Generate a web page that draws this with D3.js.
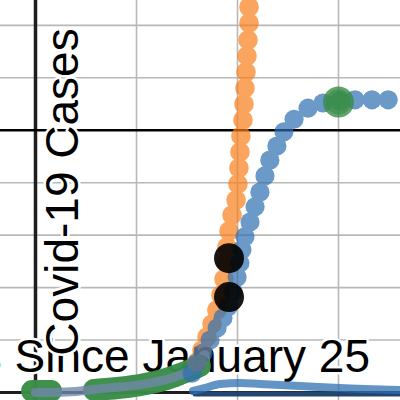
<!DOCTYPE html>
<html>
<head>
<meta charset="utf-8">
<script src="https://cdn.jsdelivr.net/npm/d3@7"></script>
<style>
html,body{margin:0;padding:0;background:#fff;overflow:hidden}
svg{display:block}
</style>
</head>
<body>
<svg id="chart" width="400" height="400"></svg>
<script>
// ---- data ----
const xGridTicks = [5, 10, 15];
const yGridTicks = [1000, 2000, 3000, 4000, 5000, 6000, 7000];
const thresholdCases = 5000;

const xTitle = "Days Since January 25";
const yTitle = "Covid-19 Cases";

const orangeDays  = [8.00, 8.24, 8.49, 8.74, 8.98, 9.18, 9.33, 9.43, 9.48, 9.58, 9.73, 9.93, 10.02, 10.07, 10.12, 10.17, 10.27, 10.32, 10.37, 10.42, 10.47, 10.52, 10.57, 10.57, 10.62];
const orangeCases = [582, 810, 1058, 1306, 1573, 1859, 2164, 2469, 2774, 3079, 3384, 3670, 3975, 4280, 4585, 4890, 5195, 5501, 5806, 6111, 6416, 6721, 7045, 7350, 7655];

const blueDays  = [7.75, 7.99, 8.29, 8.64, 8.99, 9.28, 9.53, 9.78, 9.98, 10.12, 10.22, 10.37, 10.62, 10.87, 11.11, 11.36, 11.60, 11.95, 12.30, 12.80, 13.49, 14.23, 15.07, 15.82, 16.66, 17.46];
const blueCases = [370, 560, 750, 1000, 1230, 1420, 1630, 1920, 2200, 2470, 2720, 2970, 3250, 3540, 3820, 4130, 4430, 4700, 4970, 5210, 5420, 5520, 5560, 5580, 5580, 5580];

const keyDays  = [9.58, 9.58];
const keyCases = [2560, 1820];

const peakDay   = [15.0];
const peakCases = [5540];

const greenDays  = [-0.17, 0.77, null, 2.90, 4.18, 5.42, 6.41, 7.15, 7.75, 8.14];
const greenCases = [30, 30, null, 50, 90, 160, 250, 350, 440, 510];

const fitDays  = [0, 1.5, 3.2, 5.2, 6.4, 7.2, 7.75];
const fitCases = [0, 10, 70, 150, 240, 340, 420];

const humpDays  = [7.80, 8.40, 9.14, 10.12, 11.11, 13.09, 15.07, 18.04];
const humpCases = [29, 86, 162, 181, 162, 124, 86, 48];

const baseDays  = [7.9, 18.2];
const baseCases = [-30, -30];

// ---- scales ----
const W = 400, H = 400;
const x = d3.scaleLinear().domain([-35.5 / 20.2, 364.5 / 20.2]).range([0, W]);
const y = d3.scaleLinear().domain([-7.5 / 0.05245, 392.5 / 0.05245]).range([H, 0]);

const svg = d3.select("#chart");
const zip = (a, b) => a.map((d, i) => (d === null ? null : [d, b[i]]));

// grid
svg.append("g").selectAll("line").data(xGridTicks).join("line")
  .attr("x1", d => x(d)).attr("x2", d => x(d)).attr("y1", 0).attr("y2", H)
  .attr("stroke", "#b8b8b8").attr("stroke-width", 1.6);
svg.append("g").selectAll("line").data(yGridTicks).join("line")
  .attr("x1", 0).attr("x2", W).attr("y1", d => y(d)).attr("y2", d => y(d))
  .attr("stroke", "#b8b8b8").attr("stroke-width", 1.6);

// axes
svg.append("line").attr("x1", x(0)).attr("x2", x(0)).attr("y1", 0).attr("y2", H)
  .attr("stroke", "#1e1e1e").attr("stroke-width", 3.5);
svg.append("line").attr("x1", 0).attr("x2", W).attr("y1", y(0)).attr("y2", y(0))
  .attr("stroke", "#1e1e1e").attr("stroke-width", 3);
// threshold line
svg.append("line").attr("x1", 0).attr("x2", W).attr("y1", y(thresholdCases)).attr("y2", y(thresholdCases))
  .attr("stroke", "#000").attr("stroke-width", 2.6);

// titles (with white halo)
const tStyle = sel => sel
  .attr("font-family", "'Liberation Sans', Arial, sans-serif")
  .attr("font-size", 46).attr("fill", "#000")
  .attr("stroke", "#fff").attr("stroke-width", 5)
  .attr("stroke-linejoin", "round").attr("paint-order", "stroke");

svg.append("text").call(tStyle)
  .attr("x", 370).attr("y", 372).attr("text-anchor", "end").text(xTitle);
svg.append("text").call(tStyle)
  .attr("transform", "translate(78,192) rotate(-90)")
  .attr("text-anchor", "middle").text(yTitle);

// curves
const line = d3.line().defined(d => d !== null)
  .x(d => x(d[0])).y(d => y(d[1])).curve(d3.curveMonotoneX);

svg.append("path").datum(zip(greenDays, greenCases)).attr("d", line)
  .attr("fill", "none").attr("stroke", "#388c46").attr("stroke-opacity", 0.97)
  .attr("stroke-width", 22).attr("stroke-linecap", "round").attr("stroke-linejoin", "round");

svg.append("path").datum(zip(fitDays, fitCases)).attr("d", line)
  .attr("fill", "none").attr("stroke", "#7088a8").attr("stroke-opacity", 0.8)
  .attr("stroke-width", 9).attr("stroke-linecap", "round");

svg.append("path").datum(zip(baseDays, baseCases)).attr("d", line)
  .attr("fill", "none").attr("stroke", "#22466f").attr("stroke-width", 5)
  .attr("stroke-linecap", "round");

svg.append("path").datum(zip(humpDays, humpCases)).attr("d", line)
  .attr("fill", "none").attr("stroke", "#2d70b3").attr("stroke-opacity", 0.75)
  .attr("stroke-width", 8).attr("stroke-linecap", "round");

// point series
function dots(days, cases, r, color, op) {
  svg.append("g").attr("opacity", op).selectAll("circle")
    .data(zip(days, cases)).join("circle")
    .attr("cx", d => x(d[0])).attr("cy", d => y(d[1])).attr("r", r).attr("fill", color);
}
dots(orangeDays, orangeCases, 9.8, "#fa7e19", 0.7);
dots(blueDays, blueCases, 9.6, "#2d70b3", 0.7);
dots(keyDays, keyCases, 15, "#000", 0.9);
dots(peakDay, peakCases, 15.5, "#388c46", 0.8);
dots(peakDay, peakCases, 12.5, "#388c46", 0.6);
</script>
</body>
</html>
